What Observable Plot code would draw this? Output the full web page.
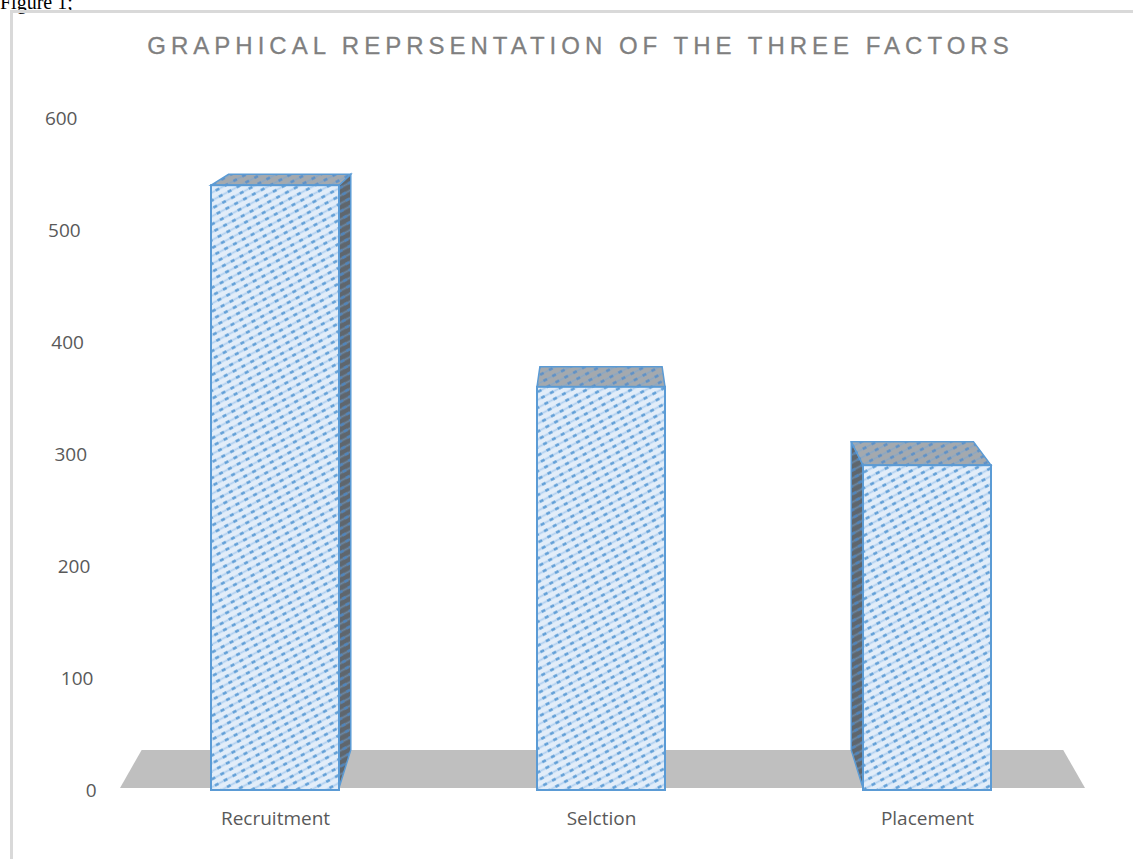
<!DOCTYPE html>
<html><head><meta charset="utf-8">
<script src="https://cdn.jsdelivr.net/npm/d3@7"></script>
<script src="https://cdn.jsdelivr.net/npm/@observablehq/plot@0.6"></script>
<style>
body{margin:0;background:#fff;width:1133px;height:859px;overflow:hidden;position:relative;}
#fig{position:absolute;left:0;top:-8px;font:20px "Liberation Serif","Times New Roman",serif;line-height:20px;color:#000;}
#box{position:absolute;left:10px;top:10px;width:1140px;height:860px;border:3px solid #d9d9d9;box-sizing:border-box;}
#title{position:absolute;left:0;width:1161px;top:32px;text-align:center;font:24px "Liberation Sans",Arial,sans-serif;letter-spacing:5px;color:#7f7f7f;-webkit-text-stroke:0.3px #7f7f7f;}
#chart{position:absolute;left:0;top:0;}
</style></head><body>
<div id="fig">Figure 1;</div>
<div id="box"></div>
<div id="title">GRAPHICAL REPRSENTATION OF THE THREE FACTORS</div>
<div id="chart"></div>
<script>
const categories = ["Recruitment", "Selction", "Placement"];
const values = [540, 360, 290];
const yTicks = [0, 100, 200, 300, 400, 500, 600];

const data = categories.map((c, i) => ({category: c, value: values[i]}));

const plot = Plot.plot({
  width: 1133, height: 859,
  marginTop: 118, marginBottom: 69, marginLeft: 113, marginRight: 44,
  style: {background: "transparent", fontFamily: "'Open Sans', sans-serif", fontSize: "19px", color: "#595959", overflow: "visible"},
  x: {domain: categories, paddingInner: 0.607, paddingOuter: 0.3, label: null},
  y: {domain: [0, 600], label: null},
  marks: [
    Plot.axisY({ticks: yTicks, tickSize: 0, tickPadding: 36, label: null, fill: "#595959"}),
    Plot.axisX({tickSize: 0, tickPadding: 21, label: null, fill: "#595959"}),
    Plot.barY(data, {x: "category", y: "value", fill: "url(#pFront)", stroke: "#5b9bd5", strokeWidth: 2})
  ]
});
document.getElementById("chart").appendChild(plot);

const svg = d3.select(plot);
const defs = svg.insert("defs", ":first-child");
function pat(id, bg, line, dark) {
  const p = defs.append("pattern").attr("id", id).attr("patternUnits", "userSpaceOnUse")
    .attr("width", 10).attr("height", 7).attr("patternTransform", "rotate(-28)");
  p.append("rect").attr("width", 10).attr("height", 7).attr("fill", bg);
  p.append("rect").attr("x", 0).attr("y", 2.6).attr("width", 10).attr("height", 1.8).attr("fill", line).attr("opacity", 0.6);
  p.append("rect").attr("x", 1).attr("y", 2.3).attr("width", 4).attr("height", 2.4).attr("fill", dark);
}
pat("pFront", "#e2edf9", "#8dbbe8", "#5b9bd5");
pat("pTop", "#a4a9ae", "#7aa3cf", "#5b8fc7");
pat("pSide", "#5f666d", "#6f9ccc", "#4f86c0");

const xs = plot.scale("x"), ys = plot.scale("y");
const bw = xs.bandwidth;
const vx = (xs.range[0] + xs.range[1]) / 2, vy = -58, k = 0.045;
const back = ([x, y]) => [x + (vx - x) * k, y + (vy - y) * k];
const y0 = ys.apply(0) - 2;

// floor
const fl = [xs.range[0] + 7, y0], fr = [xs.range[1] - 4, y0];
const floorG = svg.insert("g", 'g[aria-label="bar"]').attr("aria-label", "floor");
floorG.append("polygon").attr("points", [fl, fr, back(fr), back(fl)].map(p => p.join(",")).join(" ")).attr("fill", "#bfbfbf");

// 3D faces
const facesG = svg.insert("g", 'g[aria-label="bar"]').attr("aria-label", "bar faces");
data.forEach(d => {
  const x1 = xs.apply(d.category), x2 = x1 + bw;
  const yt = ys.apply(d.value), yb = y0;
  const top = [[x1, yt], [x2, yt], back([x2, yt]), back([x1, yt])];
  if (x2 < vx) {
    const side = [[x2, yt], [x2, yb], back([x2, yb]), back([x2, yt])];
    facesG.append("polygon").attr("points", side.map(p => p.join(",")).join(" ")).attr("fill", "url(#pSide)").attr("stroke", "#5b9bd5").attr("stroke-width", 1.5);
  }
  if (x1 > vx) {
    const side = [[x1, yt], [x1, yb], back([x1, yb]), back([x1, yt])];
    facesG.append("polygon").attr("points", side.map(p => p.join(",")).join(" ")).attr("fill", "url(#pSide)").attr("stroke", "#5b9bd5").attr("stroke-width", 1.5);
  }
  facesG.append("polygon").attr("points", top.map(p => p.join(",")).join(" ")).attr("fill", "url(#pTop)").attr("stroke", "#5b9bd5").attr("stroke-width", 1.5);
});

// perspective slant of the y tick labels
const yTop = ys.apply(600);
svg.selectAll('g[aria-label="y-axis tick label"] text').each(function() {
  const r = this.getBoundingClientRect();
  const cy = r.top + r.height / 2;
  const dx = (cy - yTop) * 0.0285;
  const t = this.getAttribute("transform") || "";
  this.setAttribute("transform", (t + ` translate(${dx},0)`).trim());
});
</script>
</body></html>
